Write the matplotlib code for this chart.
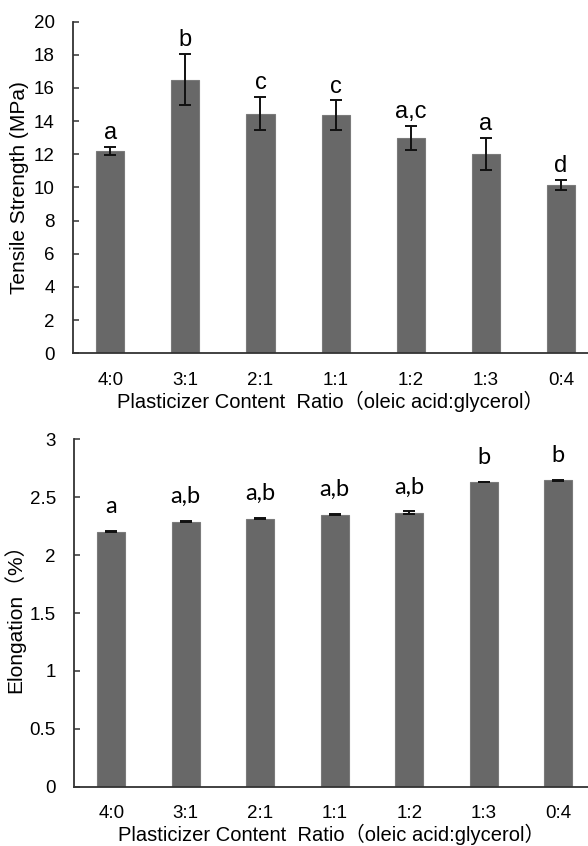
import matplotlib
matplotlib.use('Agg')
import matplotlib.pyplot as plt
import numpy as np

# plasticizer ratios (oleic acid : glycerol)
ratios = ['4:0', '3:1', '2:1', '1:1', '1:2', '1:3', '0:4']

tensile = [12.2, 16.5, 14.45, 14.35, 13.0, 12.03, 10.15]
tensile_err = [0.25, 1.55, 1.0, 0.9, 0.72, 0.98, 0.32]
tensile_groups = ['a', 'b', 'c', 'c', 'a,c', 'a', 'd']

elong = [2.202, 2.291, 2.317, 2.351, 2.369, 2.633, 2.647]
elong_err = [0.004, 0.004, 0.005, 0.005, 0.01, 0.004, 0.004]
elong_groups = ['a', 'a,b', 'a,b', 'a,b', 'a,b', 'b', 'b']

fam = ['Liberation Sans', 'Noto Sans CJK SC', 'DejaVu Sans']
plt.rcParams['font.family'] = fam
plt.rcParams['font.size'] = 13

bar_color = '#686868'
x = np.arange(len(ratios))
xlabel = 'Plasticizer Content  Ratio（oleic acid:glycerol）'

fig = plt.figure(figsize=(5.88, 8.46), dpi=100)
ax1 = fig.add_axes([0.1236, 0.5824, 0.8764, 0.392])
ax2 = fig.add_axes([0.1259, 0.0701, 0.8741, 0.4104])


def style_axis(ax, xmax):
    ax.set_xlim(-0.5, xmax)
    ax.spines['top'].set_visible(False)
    ax.spines['right'].set_visible(False)
    for s in ['left', 'bottom']:
        ax.spines[s].set_color('#333333')
        ax.spines[s].set_linewidth(1.3)
    ax.set_xticks(x)
    ax.set_xticklabels(ratios)
    ax.tick_params(axis='x', length=0, pad=13.5, labelsize=13.5)
    ax.tick_params(axis='y', direction='in', length=4, width=1.1,
                   color='#333333', pad=13, labelsize=13.5)
    ax.set_xlabel(xlabel, fontsize=14.5, labelpad=1)


# top: tensile strength
ax1.bar(x, tensile, width=0.375, color=bar_color, edgecolor='#7a7a7a',
        linewidth=0.8, yerr=tensile_err, capsize=4,
        error_kw=dict(ecolor='#111111', elinewidth=1.4, capthick=1.4))
ax1.set_ylim(0, 20)
ax1.set_yticks(np.arange(0, 21, 2))
style_axis(ax1, 6.36)
ax1.set_ylabel('Tensile Strength (MPa)', fontsize=15, labelpad=3)
for xi, v, e, g in zip(x, tensile, tensile_err, tensile_groups):
    ax1.annotate(g, (xi, v + e), xytext=(0, 2), textcoords='offset points',
                 ha='center', va='bottom', fontsize=17)

# bottom: elongation
ax2.bar(x, elong, width=0.375, color=bar_color, edgecolor='#7a7a7a',
        linewidth=0.8, yerr=elong_err, capsize=4,
        error_kw=dict(ecolor='#111111', elinewidth=1.4, capthick=1.4))
ax2.set_ylim(0, 3)
ax2.set_yticks(np.arange(0, 3.01, 0.5))
ax2.set_yticklabels(['0', '0.5', '1', '1.5', '2', '2.5', '3'])
style_axis(ax2, 6.4)
ax2.set_ylabel('Elongation（%）', fontsize=15, labelpad=3)
for xi, v, e, g in zip(x, elong, elong_err, elong_groups):
    ax2.annotate(g, (xi, v + e), xytext=(0, 10), textcoords='offset points',
                 ha='center', va='bottom', fontsize=17,
                 family=['Lato', 'DejaVu Sans'])

fig.savefig('out.png', dpi=100)
